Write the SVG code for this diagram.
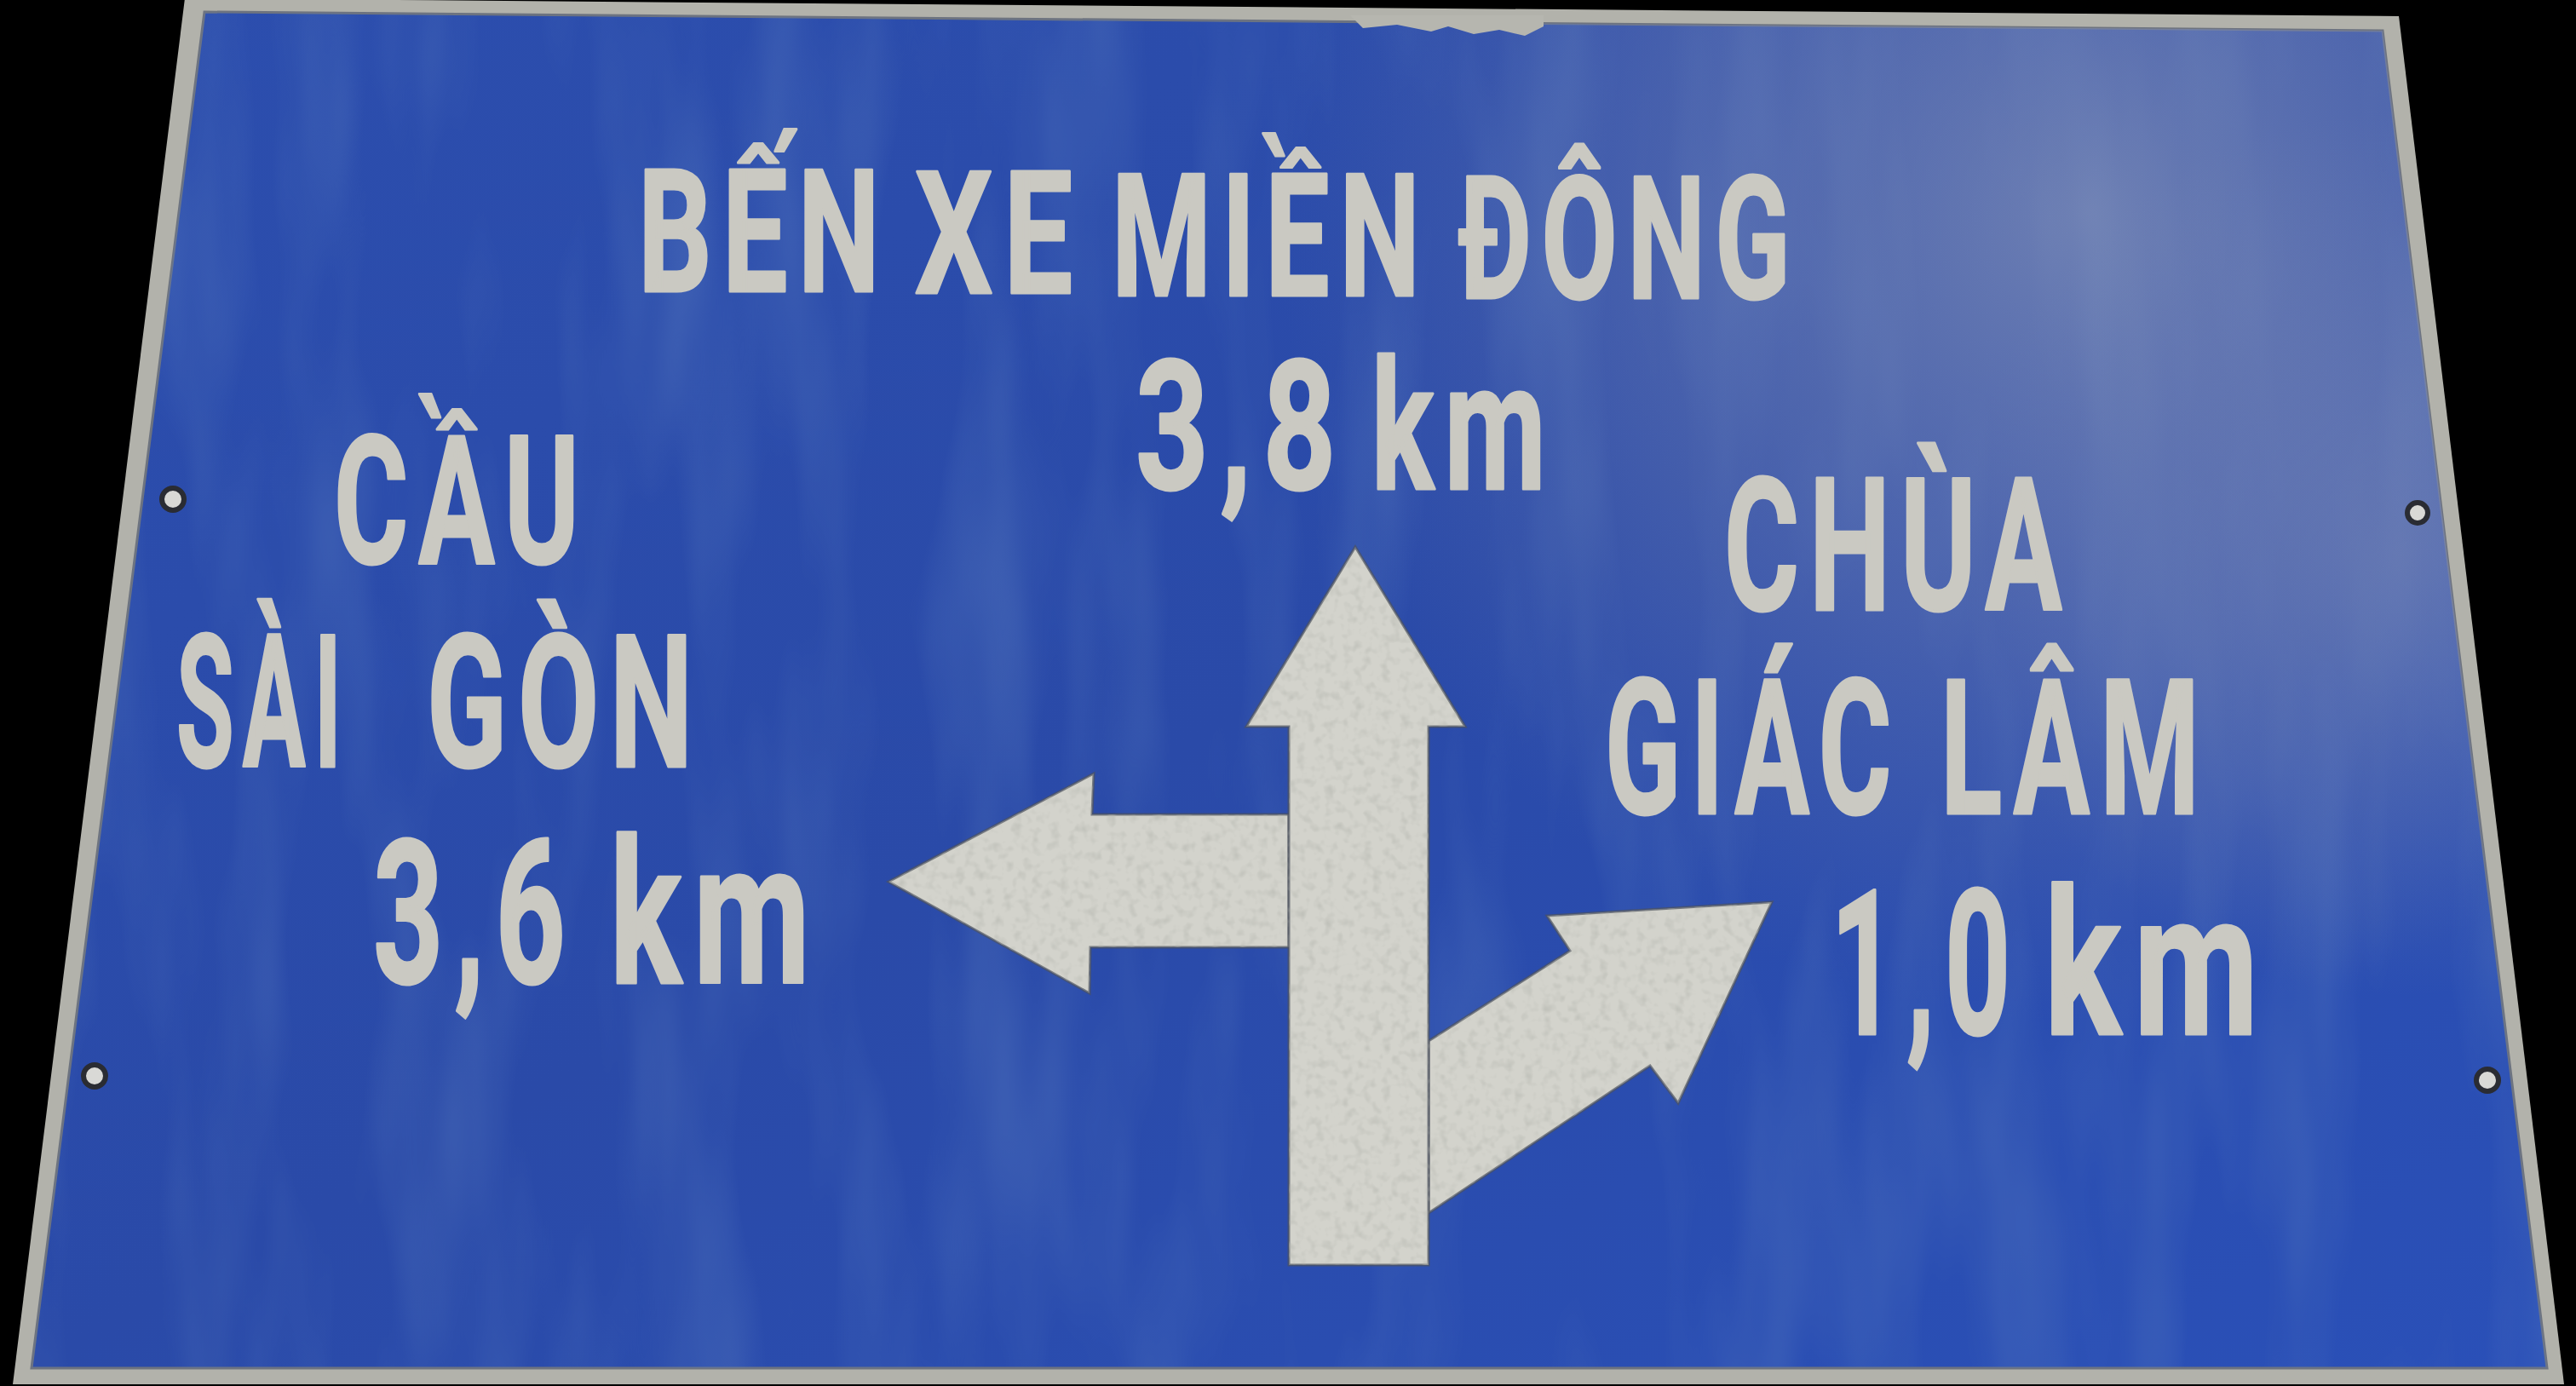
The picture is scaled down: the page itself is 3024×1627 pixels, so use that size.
<svg xmlns="http://www.w3.org/2000/svg" width="3024" height="1627" viewBox="0 0 3024 1627">
  <defs>
    <style>
      .t { font-family: Roboto, "DejaVu Sans", "Liberation Sans", sans-serif; font-weight: 700; fill: #cac9c2; stroke: #cac9c2; stroke-width: 3; stroke-linejoin: round; }
      .arrow { fill: #d3d3cc; stroke: #4d535e; stroke-width: 3; stroke-opacity: 0.7; stroke-linejoin: miter; }
      .bolt { fill: #d9d9d6; stroke: #2a2c33; stroke-width: 6; }
    </style>
    <radialGradient id="hazeTR" cx="2450" cy="250" r="950" gradientUnits="userSpaceOnUse">
      <stop offset="0" stop-color="#8a96b8" stop-opacity="0.7"/>
      <stop offset="0.55" stop-color="#7482b2" stop-opacity="0.38"/>
      <stop offset="1" stop-color="#6a7ab0" stop-opacity="0"/>
    </radialGradient>
    <radialGradient id="hazeR" cx="2820" cy="650" r="520" gradientUnits="userSpaceOnUse">
      <stop offset="0" stop-color="#8590b6" stop-opacity="0.45"/>
      <stop offset="1" stop-color="#8590b6" stop-opacity="0"/>
    </radialGradient>
    <linearGradient id="blueBase" x1="0" y1="0" x2="1" y2="1">
      <stop offset="0" stop-color="#2c4eae"/>
      <stop offset="0.5" stop-color="#2a4aa8"/>
      <stop offset="1" stop-color="#2a50b8"/>
    </linearGradient>
    <filter id="mottle" x="0" y="0" width="100%" height="100%">
      <feTurbulence type="fractalNoise" baseFrequency="0.009 0.0018" numOctaves="3" seed="7" result="n"/>
      <feColorMatrix in="n" type="matrix" values="0 0 0 0 0.10  0 0 0 0 0.20  0 0 0 0 0.52  0.9 0 0 0 -0.40"/>
    </filter>
    <filter id="grain" x="0" y="0" width="100%" height="100%">
      <feTurbulence type="fractalNoise" baseFrequency="0.09" numOctaves="2" seed="3" result="n"/>
      <feColorMatrix in="n" type="matrix" values="0 0 0 0 0.45  0 0 0 0 0.46  0 0 0 0 0.42  1.3 0 0 0 -0.62"/>
    </filter>
    <clipPath id="innerClip">
      <polygon points="240,14 2797,36 2990,1606 37,1606"/>
    </clipPath>
    <clipPath id="arrowClip">
      <path d="M1043,1035 L1284,908 L1282,956 L1513,956 L1513,1112 L1280,1112 L1279,1166 Z"/>
      <path d="M1677,1222 L1843,1116 L1816,1075 L2080,1059 L1970,1295 L1937,1251 L1677,1424 Z"/>
      <path d="M1591,642 L1720,853 L1677,853 L1677,1485 L1513,1485 L1513,853 L1463,853 Z"/>
    </clipPath>
  </defs>

  <rect x="0" y="0" width="3024" height="1627" fill="#000000"/>

  <g id="sign-panel">
    <polygon points="217,-2 2816,19 3010,1625 15,1625" fill="#b2b2ab"/>
    <polygon points="240,14 2797,36 2990,1606 37,1606" fill="url(#blueBase)" stroke="#6d737f" stroke-width="3"/>
    <g clip-path="url(#innerClip)">
      <rect x="0" y="0" width="3024" height="1627" filter="url(#mottle)"/>
      <rect x="0" y="0" width="3024" height="1627" fill="url(#hazeTR)"/>
      <rect x="0" y="0" width="3024" height="1627" fill="url(#hazeR)"/>
    </g>
    <polygon points="1585,18 1600,33 1640,29 1680,37 1700,31 1730,40 1760,35 1790,42 1812,31 1812,18" fill="#b6b6af"/>
  </g>

  <g id="bolts">
    <circle class="bolt" cx="203" cy="586" r="13"/>
    <circle class="bolt" cx="2838" cy="602" r="12"/>
    <circle class="bolt" cx="111" cy="1263" r="13"/>
    <circle class="bolt" cx="2920" cy="1268" r="13"/>
  </g>

  <g id="arrows">
    <path id="arrow-left" class="arrow" d="M1043,1035 L1284,908 L1282,956 L1513,956 L1513,1112 L1280,1112 L1279,1166 Z"/>
    <path id="arrow-right" class="arrow" d="M1677,1222 L1843,1116 L1816,1075 L2080,1059 L1970,1295 L1937,1251 L1677,1424 Z"/>
    <path id="arrow-up" class="arrow" d="M1591,642 L1720,853 L1677,853 L1677,1485 L1513,1485 L1513,853 L1463,853 Z"/>
    <g clip-path="url(#arrowClip)">
      <rect x="1000" y="600" width="1120" height="920" filter="url(#grain)"/>
    </g>
  </g>

  <g id="dest-top">
    <text class="t" transform="translate(749,341.5) scale(0.68,1)" font-size="201" letter-spacing="18" textLength="435" lengthAdjust="spacingAndGlyphs">BẾN</text>
    <text class="t" transform="translate(1074,343.5) scale(0.68,1)" font-size="201" letter-spacing="18" textLength="291" lengthAdjust="spacingAndGlyphs">XE</text>
    <text class="t" transform="translate(1305,346.5) scale(0.68,1)" font-size="201" letter-spacing="18" textLength="550" lengthAdjust="spacingAndGlyphs">MIỀN</text>
    <text class="t" transform="translate(1712,349.5) scale(0.68,1)" font-size="201" letter-spacing="18" textLength="590" lengthAdjust="spacingAndGlyphs">ĐÔNG</text>
    <text class="t" transform="translate(1333,573.5) scale(0.68,1)" font-size="211" letter-spacing="19" textLength="366" lengthAdjust="spacingAndGlyphs">3,8</text>
    <text class="t" transform="translate(1610,573.5) scale(0.68,1)" font-size="211" letter-spacing="19" textLength="319" lengthAdjust="spacingAndGlyphs">km</text>
  </g>

  <g id="dest-left">
    <text class="t" transform="translate(392,660.5) scale(0.68,1)" font-size="209" letter-spacing="19" textLength="441" lengthAdjust="spacingAndGlyphs">CẦU</text>
    <text class="t" transform="translate(207,899.5) scale(0.68,1)" font-size="218" letter-spacing="20" textLength="300" lengthAdjust="spacingAndGlyphs">SÀI</text>
    <text class="t" transform="translate(501,899.5) scale(0.68,1)" font-size="218" letter-spacing="20" textLength="478" lengthAdjust="spacingAndGlyphs">GÒN</text>
    <text class="t" transform="translate(438,1153.5) scale(0.68,1)" font-size="235" letter-spacing="21" textLength="351" lengthAdjust="spacingAndGlyphs">3,6</text>
    <text class="t" transform="translate(716,1153.5) scale(0.68,1)" font-size="235" letter-spacing="21" textLength="366" lengthAdjust="spacingAndGlyphs">km</text>
  </g>

  <g id="dest-right">
    <text class="t" transform="translate(2024,716) scale(0.68,1)" font-size="217" letter-spacing="19.5" textLength="601" lengthAdjust="spacingAndGlyphs">CHÙA</text>
    <text class="t" transform="translate(1884,954.5) scale(0.68,1)" font-size="221" letter-spacing="20" textLength="512" lengthAdjust="spacingAndGlyphs">GIÁC</text>
    <text class="t" transform="translate(2278,954.5) scale(0.68,1)" font-size="221" letter-spacing="20" textLength="465" lengthAdjust="spacingAndGlyphs">LÂM</text>
    <text class="t" transform="translate(2149,1213.5) scale(0.68,1)" font-size="238" letter-spacing="21" textLength="328" lengthAdjust="spacingAndGlyphs">1,0</text>
    <text class="t" transform="translate(2400,1213.5) scale(0.68,1)" font-size="238" letter-spacing="21" textLength="391" lengthAdjust="spacingAndGlyphs">km</text>
  </g>
</svg>
